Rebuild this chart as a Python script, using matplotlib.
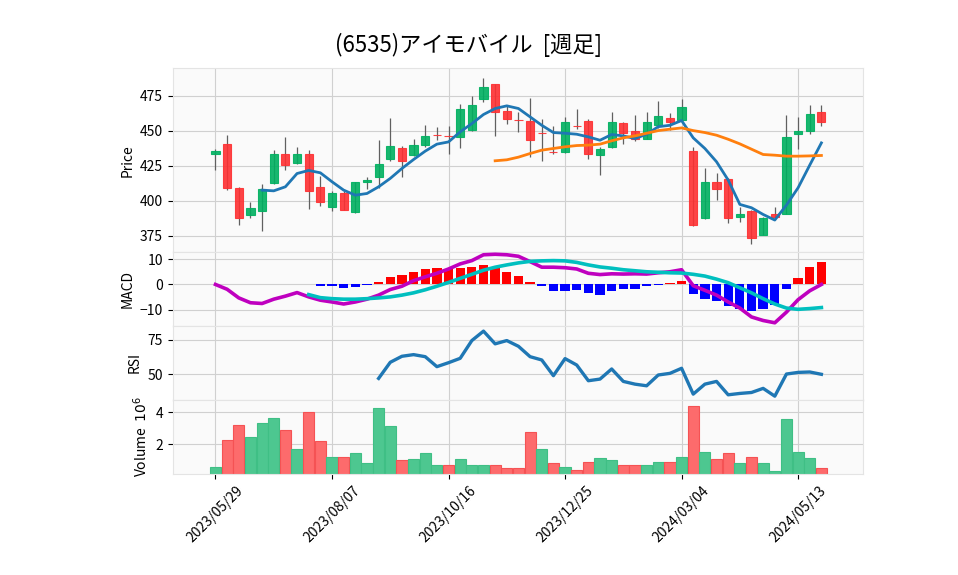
import matplotlib
matplotlib.use('Agg')
import matplotlib.pyplot as plt
import numpy as np
import pandas as pd

plt.rcParams['font.family'] = ['Noto Sans CJK JP', 'DejaVu Sans']
nan = np.nan

# ---------------------------------------------------------------------------- #
# DATA (weekly bars)

dates = pd.date_range('2023-05-29', periods=53, freq='7D')

opens = [433.1, 440.5, 408.8, 390.0, 392.9, 412.9, 433.1, 426.9, 433.1, 409.5,
         395.7, 405.5, 392.1, 413.1, 417.1, 430.0, 437.6, 432.6, 440.2, 446.7,
         446.0, 445.7, 450.7, 473.1, 483.3, 464.0, 458.0, 456.9, 448.5, 435.2,
         435.0, 453.8, 456.9, 432.9, 438.6, 455.5, 450.2, 444.3, 454.0, 459.3,
         457.9, 435.5, 387.4, 413.3, 415.5, 388.6, 392.6, 375.7, 390.5, 390.7,
         447.9, 450.0, 463.3]
highs = [436.9, 447.4, 410.2, 398.8, 411.7, 436.0, 445.5, 438.8, 436.0, 417.4,
         407.1, 406.9, 413.6, 417.1, 443.8, 459.0, 439.0, 444.5, 454.5, 452.6,
         453.3, 469.3, 475.0, 488.1, 483.8, 468.3, 463.6, 473.8, 458.6, 453.6,
         460.0, 465.5, 458.3, 438.6, 463.6, 456.0, 461.0, 463.6, 471.2, 463.1,
         473.1, 438.8, 423.1, 420.2, 416.4, 395.7, 393.3, 388.1, 395.7, 461.0,
         460.0, 468.8, 468.8]
lows = [421.7, 407.4, 382.4, 387.4, 378.3, 411.7, 421.7, 426.4, 394.0, 396.0,
        392.4, 393.1, 391.0, 408.3, 409.3, 428.1, 416.7, 432.1, 438.6, 443.8,
        433.1, 437.4, 450.2, 470.7, 446.2, 455.2, 449.3, 431.2, 428.1, 433.1,
        434.5, 451.2, 430.2, 418.3, 438.1, 440.7, 442.6, 444.0, 451.7, 450.5,
        457.4, 382.1, 386.9, 400.7, 383.8, 385.0, 368.8, 375.5, 387.4, 390.5,
        436.9, 448.1, 453.6]
closes = [435.5, 408.8, 387.9, 394.5, 408.1, 433.1, 425.5, 433.3, 407.1, 398.8,
          405.5, 393.6, 413.1, 414.8, 426.2, 439.0, 428.6, 440.2, 446.2, 446.7,
          446.0, 465.5, 468.3, 481.2, 463.6, 458.3, 458.0, 443.8, 448.5, 435.2,
          456.0, 453.8, 433.1, 436.9, 456.0, 448.6, 444.0, 456.0, 460.5, 456.4,
          466.9, 382.6, 413.3, 408.6, 387.9, 390.2, 373.1, 387.4, 388.6, 445.5,
          450.2, 461.9, 456.4]
# volume in millions of shares
volumes = [0.57, 2.28, 3.23, 2.43, 3.32, 3.64, 2.91, 1.66, 4.06, 2.21,
           1.19, 1.19, 1.40, 0.81, 4.28, 3.13, 0.96, 1.02, 1.40, 0.70,
           0.70, 1.02, 0.70, 0.64, 0.70, 0.45, 0.51, 2.74, 1.66, 0.77,
           0.57, 0.38, 0.83, 1.09, 0.96, 0.70, 0.70, 0.64, 0.83, 0.83,
           1.15, 4.38, 1.47, 1.02, 1.40, 0.77, 1.15, 0.77, 0.32, 3.57,
           1.47, 1.09, 0.45]

ma5 = [nan, nan, nan, nan, 407.6, 407.1, 410.0, 419.5, 421.7, 420.0,
       413.6, 407.6, 404.0, 405.2, 410.0, 416.0, 423.1, 429.5, 435.5, 440.5,
       442.1, 449.3, 455.2, 461.7, 466.0, 467.9, 466.0, 460.0, 454.0, 448.8,
       448.3, 447.6, 445.7, 443.3, 447.4, 446.4, 444.5, 447.6, 453.0, 454.0,
       457.4, 445.0, 437.4, 427.9, 414.8, 397.4, 395.0, 390.2, 386.2, 396.9,
       409.3, 425.5, 441.4]
ma25 = [nan] * 24 + [428.6, 429.3, 431.2, 433.8, 436.2, 437.4,
                     438.6, 439.5, 439.8, 440.5, 442.9, 445.0, 446.4, 448.3, 450.2, 451.2,
                     452.1, 450.2, 448.8, 446.9, 444.0, 440.7, 436.9, 433.1, 432.6, 431.9,
                     431.9, 432.1, 432.4]

macd = [0.0, -1.9, -5.3, -7.2, -7.5, -5.8, -4.6, -3.2, -4.9, -6.2,
        -6.9, -7.7, -6.9, -5.8, -4.2, -2.0, -0.7, 1.5, 3.0, 4.4,
        6.1, 8.1, 9.4, 11.7, 11.9, 11.7, 11.1, 9.0, 6.8, 6.8,
        6.6, 6.1, 4.4, 3.9, 4.2, 4.1, 4.2, 4.1, 4.6, 5.0,
        5.8, -0.5, -2.3, -4.2, -6.9, -9.3, -12.8, -14.2, -15.1, -10.9,
        -6.0, -2.5, 0.0]
signal = [nan] * 8 + [-4.0, -5.2,
                      -5.6, -5.8, -5.8, -5.6, -5.3, -4.9, -4.2, -3.3, -2.1, -0.7,
                      0.8, 2.4, 4.0, 5.6, 6.8, 7.7, 8.5, 9.1, 9.3, 9.4,
                      9.3, 8.7, 7.7, 6.9, 6.4, 5.8, 5.4, 5.0, 4.8, 4.6,
                      4.5, 4.0, 3.3, 2.1, 0.7, -1.3, -3.3, -5.6, -7.7, -9.3,
                      -9.8, -9.5, -9.1]
hist = [nan] * 9 + [-0.5,
                    -0.7, -1.5, -0.9, -0.3, 0.8, 2.8, 3.7, 4.8, 6.0, 6.4,
                    6.0, 6.6, 6.8, 7.5, 6.4, 4.8, 3.2, 0.9, -0.7, -2.6,
                    -2.6, -2.3, -3.4, -4.0, -2.6, -1.9, -1.9, -0.7, -0.1, 0.5,
                    1.2, -3.8, -5.6, -6.6, -8.5, -9.5, -10.6, -9.5, -7.9, -1.9,
                    2.4, 6.8, 8.7]

rsi = [nan] * 14 + [46.8, 58.6, 63.0, 64.2, 62.7, 55.4,
                    58.3, 61.5, 74.5, 81.4, 72.1, 74.5, 70.3, 62.7, 60.3, 48.8,
                    61.3, 56.6, 45.1, 46.3, 53.7, 44.6, 42.6, 41.4, 49.3, 50.5,
                    54.2, 35.3, 42.6, 44.6, 34.8, 35.8, 36.5, 39.5, 33.8, 50.0,
                    51.2, 51.5, 49.8]

title = '(6535)アイモバイル  [週足]'

# ---------------------------------------------------------------------------- #
# FIGURE AND PANELS

x = np.arange(len(dates))
o = np.array(opens)
c = np.array(closes)

fig = plt.figure(figsize=(9.58, 5.75), dpi=100)
L, W = 0.1803, 0.7209
ax_p = fig.add_axes([L, 0.5609, W, 0.3209])
ax_m = fig.add_axes([L, 0.4329, W, 0.1280], sharex=ax_p)
ax_r = fig.add_axes([L, 0.3046, W, 0.1283], sharex=ax_p)
ax_v = fig.add_axes([L, 0.1757, W, 0.1289], sharex=ax_p)

for ax in (ax_p, ax_m, ax_r, ax_v):
    ax.set_facecolor('#fafafa')
    ax.grid(True, color='#d0d0d0', linewidth=0.8)
    ax.set_axisbelow(True)
    for sp in ax.spines.values():
        sp.set_color('#e4e4e4')
    ax.tick_params(axis='y', labelsize=10, length=3.5, color='k')

# Candles
up = c > o
body_col = np.where(up, '#00b060', '#fe3032')
ax_p.vlines(x, lows, highs, color='#606060', linewidth=0.9, zorder=2)
ax_p.bar(x, c - o, bottom=o, width=0.7, color=body_col, edgecolor=body_col,
         linewidth=0.8, alpha=0.9, zorder=3)
ax_p.plot(x, ma5, color='#1f77b4', linewidth=2.0, zorder=4)
ax_p.plot(x, ma25, color='#ff7f0e', linewidth=2.0, zorder=4)
ax_p.set_ylim(363, 495)
ax_p.set_yticks([375, 400, 425, 450, 475])
ax_p.set_ylabel('Price', fontsize=10)

# MACD
h = np.array(hist)
hist_col = np.where(h >= 0, 'r', 'b')
ax_m.bar(x, h, width=0.8, color=hist_col, zorder=2)
ax_m.plot(x, macd, color='m', linewidth=2.6, zorder=3)
ax_m.plot(x, signal, color='c', linewidth=2.6, zorder=3)
ax_m.set_ylim(-16.4, 12.6)
ax_m.set_yticks([-10, 0, 10])
ax_m.set_ylabel('MACD', fontsize=10)

# RSI
ax_r.plot(x, rsi, color='#1f77b4', linewidth=2.4)
ax_r.set_ylim(31.1, 85.1)
ax_r.set_yticks([50, 75])
ax_r.set_ylabel('RSI', fontsize=10)

# Volume (coloured against the previous close)
prev = np.concatenate([[o[0]], c[:-1]])
vol_col = np.where(c > prev, '#4dc790', '#fd6b6c')
vol_edge = np.where(c > prev, '#3fbf85', '#f55254')
ax_v.bar(x, volumes, width=0.96, color=vol_col, edgecolor=vol_edge, linewidth=0.8)
ax_v.set_ylim(0.1, 4.8)
ax_v.set_yticks([2, 4])
ax_v.set_ylabel('Volume  $10^{6}$', fontsize=10)

# X axis
ticks = list(range(0, len(dates), 10))
ax_v.set_xticks(ticks)
ax_v.set_xticklabels([dates[i].strftime('%Y/%m/%d') for i in ticks],
                     rotation=45, fontsize=10)
ax_v.set_xlim(-3.67, 55.6)
for ax in (ax_p, ax_m, ax_r):
    ax.tick_params(axis='x', bottom=False, labelbottom=False)

fig.text(0.4896, 0.9217, title, ha='center', va='center', fontsize=16)

fig.savefig('out.png', dpi=100)
